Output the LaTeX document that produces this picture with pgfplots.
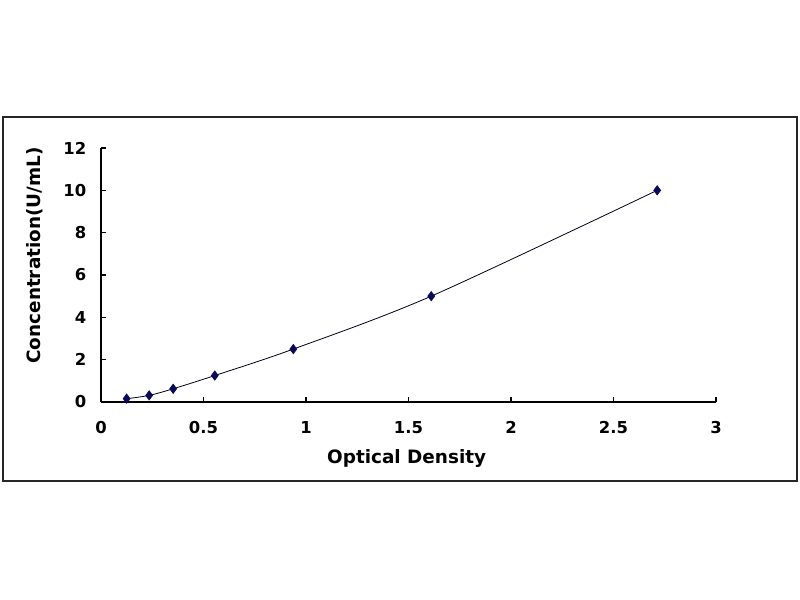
\documentclass[border=0pt]{standalone}
\usepackage{fontspec}
\setmainfont{DejaVu Sans}
\usepackage{pgfplots}
\pgfplotsset{compat=1.18}
\definecolor{mk}{HTML}{0A0A5A}
\begin{document}
\begin{tikzpicture}
\path[fill=white] (0,0) rectangle (600pt,450pt);
\draw[line width=1.6pt,black!85] (2.25pt,89.25pt) rectangle (597.75pt,362.25pt);
\begin{axis}[
  at={(75.75pt,148.5pt)}, anchor=south west,
  scale only axis, width=461.25pt, height=190.5pt,
  xmin=0, xmax=3, ymin=0, ymax=12,
  axis lines=left, axis line style={line width=1.4pt,-},
  xtick={0,0.5,...,3}, ytick={0,2,...,12},
  tick align=inside, major tick length=4pt,
  tick style={line width=1.1pt,black},
  /pgf/number format/assume math mode=true,
  ticklabel style={font=\fontsize{12.3}{14}\selectfont\bfseries, inner sep=0pt},
  xticklabel style={anchor=center, yshift=-19.1pt},
  yticklabel style={anchor=east, xshift=-10.9pt},
  clip=false,
]
\addplot[black!90!blue, line width=0.6pt, smooth, tension=0.5,
  mark=diamond*, mark size=3.4pt, mark options={fill=mk,draw=mk}]
  coordinates {(0.125,0.156) (0.235,0.312) (0.352,0.625) (0.555,1.25) (0.938,2.5) (1.611,5) (2.713,10)};
\end{axis}
\node[rotate=90,font=\fontsize{13.8}{16}\selectfont\bfseries] at (26.25pt,258.4pt) {Concentration(U/mL)};
\node[font=\fontsize{13.8}{16}\selectfont\bfseries] at (305pt,106.5pt) {Optical Density};
\end{tikzpicture}
\end{document}
